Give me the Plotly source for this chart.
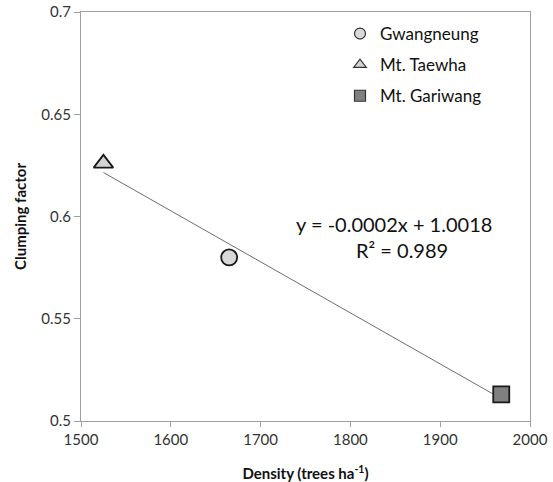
import numpy as np
import plotly.graph_objects as go

# Data
sites = ["Gwangneung", "Mt. Taewha", "Mt. Gariwang"]
density = [1665, 1525, 1968]
clumping = [0.580, 0.626, 0.513]
symbols = ["circle", "triangle-up", "square"]
fills = ["#d9d9d9", "#d4d4d4", "#808080"]
sizes = [16, 17, 16]

x_ticks = [1500, 1600, 1700, 1800, 1900, 2000]
y_ticks = [0.5, 0.55, 0.6, 0.65, 0.7]
y_tick_text = ["0.5", "0.55", "0.6", "0.65", "0.7"]

eq_text = "y = -0.0002x + 1.0018"
r2_text = "R² = 0.989"

FONT = "Lato"
W, H = 553, 482
ML, MR, MT, MB = 81, 23, 12, 61
PW, PH = W - ML - MR, H - MT - MB

fig = go.Figure()

# trend line (least squares fit from data)
slope, intercept = np.polyfit(density, clumping, 1)
xl = np.array([min(density), max(density)])
fig.add_trace(go.Scatter(x=xl, y=slope * xl + intercept, mode="lines",
                         line=dict(color="#6e6e6e", width=1), showlegend=False,
                         hoverinfo="skip"))

for i, s in enumerate(sites):
    fig.add_trace(go.Scatter(
        x=[density[i]], y=[clumping[i]], mode="markers", name=s,
        marker=dict(symbol=symbols[i], size=sizes[i], color=fills[i],
                    line=dict(color="#1a1a1a", width=1.8)),
        showlegend=False))
    # legend entry
    fig.add_trace(go.Scatter(
        x=[None], y=[None], mode="markers", name=s, legendgroup=s,
        marker=dict(symbol=symbols[i], size=11, color=fills[i],
                    line=dict(color="#333333", width=1.2)),
        showlegend=True))

fig.add_annotation(x=1848, y=0.5965, text=eq_text, showarrow=False,
                   xref="x", yref="y", font=dict(family=FONT, size=20, color="#111"))
fig.add_annotation(x=1857, y=0.5838, text=r2_text, showarrow=False,
                   xref="x", yref="y", font=dict(family=FONT, size=20, color="#111"))

fig.update_xaxes(range=[1500, 2000], tickvals=x_ticks, showgrid=False, zeroline=False,
                 showline=True, linecolor="#a0a0a0", linewidth=1, mirror=True,
                 ticks="outside", ticklen=5, tickcolor="#a0a0a0", automargin=False,
                 ticklabeloverflow="allow",
                 tickfont=dict(family=FONT, size=15, color="#333"),
                 title=dict(text="<b>Density (trees ha<sup>-1</sup>)</b>", standoff=21,
                            font=dict(family=FONT, size=15, color="#111")))
fig.update_yaxes(range=[0.5, 0.7], tickvals=y_ticks, ticktext=y_tick_text, showgrid=False,
                 zeroline=False, showline=True, linecolor="#a0a0a0", linewidth=1, mirror=True,
                 ticks="outside", ticklen=6, tickcolor="#a0a0a0", automargin=False,
                 ticklabeloverflow="allow",
                 tickfont=dict(family=FONT, size=15, color="#333"),
                 title=dict(text="<b>Clumping factor</b>", standoff=11,
                            font=dict(family=FONT, size=15, color="#111")))

fig.update_layout(
    width=W, height=H,
    margin=dict(l=ML, r=MR, t=MT, b=MB, autoexpand=False),
    paper_bgcolor="white", plot_bgcolor="white",
    showlegend=True,
    legend=dict(x=(340 - ML) / PW, y=1 - (16 - MT) / PH, xanchor="left", yanchor="top",
                bgcolor="rgba(0,0,0,0)", traceorder="grouped", tracegroupgap=6,
                font=dict(family=FONT, size=17, color="#111")),
)

fig.write_html("out.html",
               config={"displayModeBar": False},
               post_script="document.body.style.margin='0';"
                           "document.body.style.overflow='hidden';")
